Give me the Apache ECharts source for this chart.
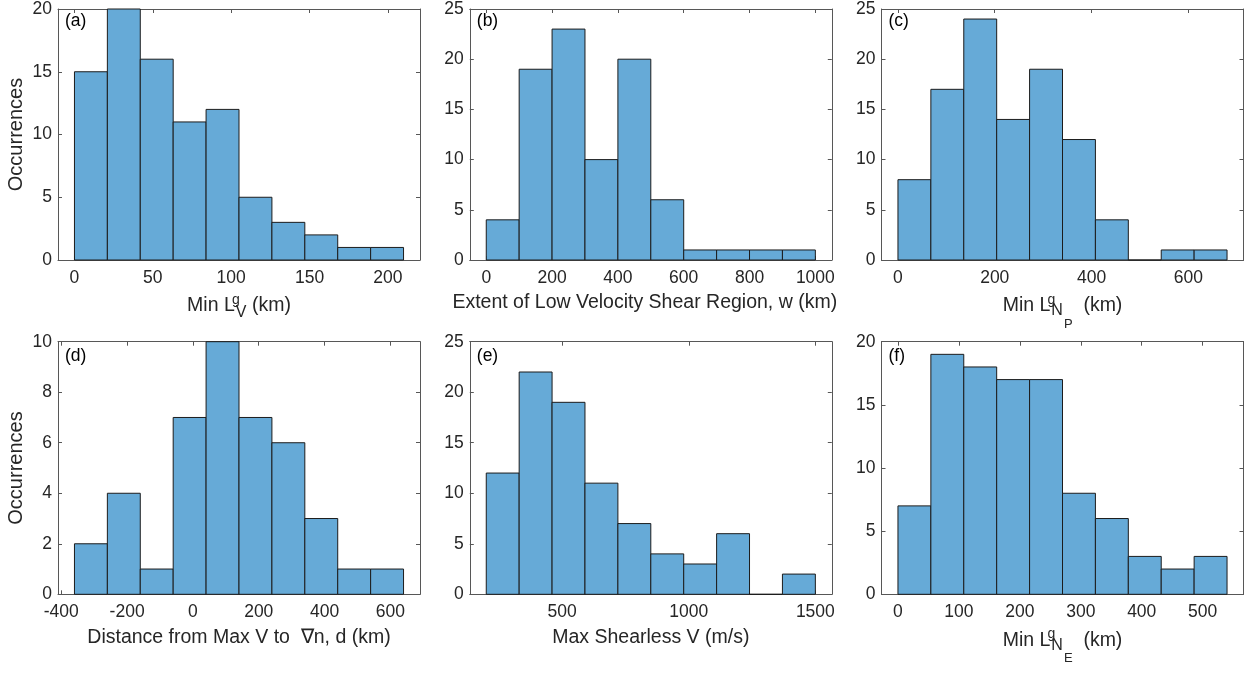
<!DOCTYPE html>
<html>
<head>
<meta charset="utf-8">
<script src="https://cdn.jsdelivr.net/npm/echarts@6/dist/echarts.min.js"></script>
<style>
html,body{margin:0;padding:0;background:#ffffff;}
#chart{width:1253px;height:675px;}
</style>
</head>
<body>
<div id="chart"></div>
<script>
// ---------------- data ----------------
const panelLabels = ['(a)', '(b)', '(c)', '(d)', '(e)', '(f)'];

const edgesA = [0, 21, 42, 63, 84, 105, 126, 147, 168, 189, 210];
const countsA = [15, 20, 16, 11, 12, 5, 3, 2, 1, 1];
const xLimA = [-10.5, 220.5];
const xTicksA = [0, 50, 100, 150, 200];
const yTicksA = [0, 5, 10, 15, 20];

const edgesB = [0, 100, 200, 300, 400, 500, 600, 700, 800, 900, 1000];
const countsB = [4, 19, 23, 10, 20, 6, 1, 1, 1, 1];
const xLimB = [-50, 1050];
const xTicksB = [0, 200, 400, 600, 800, 1000];
const yTicksB = [0, 5, 10, 15, 20, 25];

const edgesC = [0, 68, 136, 204, 272, 340, 408, 476, 544, 612, 680];
const countsC = [8, 17, 24, 14, 19, 12, 4, 0, 1, 1];
const xLimC = [-34, 714];
const xTicksC = [0, 200, 400, 600];
const yTicksC = [0, 5, 10, 15, 20, 25];

const edgesD = [-360, -260, -160, -60, 40, 140, 240, 340, 440, 540, 640];
const countsD = [2, 4, 1, 7, 10, 7, 6, 3, 1, 1];
const xLimD = [-410, 690];
const xTicksD = [-400, -200, 0, 200, 400, 600];
const yTicksD = [0, 2, 4, 6, 8, 10];

const edgesE = [200, 330, 460, 590, 720, 850, 980, 1110, 1240, 1370, 1500];
const countsE = [12, 22, 19, 11, 7, 4, 3, 6, 0, 2];
const xLimE = [135, 1565];
const xTicksE = [500, 1000, 1500];
const yTicksE = [0, 5, 10, 15, 20, 25];

const edgesF = [0, 54, 108, 162, 216, 270, 324, 378, 432, 486, 540];
const countsF = [7, 19, 18, 17, 17, 8, 6, 3, 2, 3];
const xLimF = [-27, 567];
const xTicksF = [0, 100, 200, 300, 400, 500];
const yTicksF = [0, 5, 10, 15, 20];

const xNames = [
  '{m|Min L}{sp|g}{sb|V}{m| (km)}',
  'Extent of Low Velocity Shear Region, w (km)',
  '{m|Min L}{sp|g}{sn|N}{ss|P}{m|  (km)}',
  'Distance from Max V to  \u2207n, d (km)',
  'Max Shearless V (m/s)',
  '{m|Min L}{sp|g}{sn|N}{ss|E}{m|  (km)}'
];
const yName = 'Occurrences';

// ---------------- layout / style ----------------
const FONT = '"Liberation Sans", Arial, Helvetica, sans-serif';
const axisColor = '#575757';
const textColor = '#262626';
const barFill = '#66aad7';
const barStroke = '#1c1c1c';
const tickFont = 17.5;
const nameFont = 19.5;

const panels = [
  {edges: edgesA, counts: countsA, xLim: xLimA, xTicks: xTicksA, yTicks: yTicksA},
  {edges: edgesB, counts: countsB, xLim: xLimB, xTicks: xTicksB, yTicks: yTicksB},
  {edges: edgesC, counts: countsC, xLim: xLimC, xTicks: xTicksC, yTicks: yTicksC},
  {edges: edgesD, counts: countsD, xLim: xLimD, xTicks: xTicksD, yTicks: yTicksD},
  {edges: edgesE, counts: countsE, xLim: xLimE, xTicks: xTicksE, yTicks: yTicksE},
  {edges: edgesF, counts: countsF, xLim: xLimF, xTicks: xTicksF, yTicks: yTicksF}
];

const colLeft = [58, 469.8, 881.5];
const rowTop = [6.7, 341.7];
const gridW = 362;
const gridH = [253.3, 252.6];
const namePadRight = [0, 12, 0, 0, 0, 0];

const richStyles = {
  m:  {fontSize: nameFont, fontFamily: FONT, color: textColor, lineHeight: 28, verticalAlign: 'middle'},
  sp: {fontSize: 14, fontFamily: FONT, color: textColor, verticalAlign: 'top', width: 0, padding: [1, 0, 0, 1]},
  sb: {fontSize: 16, fontFamily: FONT, color: textColor, verticalAlign: 'bottom', padding: [0, 0, -1, 0]},
  sn: {fontSize: 16, fontFamily: FONT, color: textColor, verticalAlign: 'bottom', padding: [0, 0, 1, 0]},
  ss: {fontSize: 13, fontFamily: FONT, color: textColor, verticalAlign: 'bottom', padding: [0, 0, -11, 1]}
};

const plainNum = function (v) { return String(v); };

const grids = [], xAxes = [], yAxes = [], series = [], graphics = [];

panels.forEach((p, i) => {
  const r = Math.floor(i / 3), c = i % 3;
  grids.push({left: colLeft[c], top: rowTop[r], width: gridW, height: gridH[r]});

  const isRich = xNames[i].indexOf('{m|') === 0;
  const common = {
    type: 'value', gridIndex: i,
    min: p.xLim[0], max: p.xLim[1],
    axisLine: {show: true, onZero: false, lineStyle: {color: axisColor, width: 1}},
    axisTick: {show: true, inside: true, length: 4, customValues: p.xTicks, lineStyle: {color: axisColor, width: 1}},
    splitLine: {show: false}
  };
  xAxes.push(Object.assign({}, common, {
    position: 'bottom',
    axisLabel: {show: true, customValues: p.xTicks, margin: 9, fontSize: tickFont, color: textColor,
      fontFamily: FONT, formatter: plainNum},
    name: xNames[i], nameLocation: 'middle', nameGap: isRich ? 32 : 33,
    nameTextStyle: isRich ? {rich: richStyles}
      : {fontSize: nameFont, color: textColor, fontFamily: FONT, padding: [0, namePadRight[i], 0, 0]}
  }));
  xAxes.push(Object.assign({}, common, {
    position: 'top',
    axisLabel: {show: false}
  }));

  const ycommon = {
    type: 'value', gridIndex: i,
    min: p.yTicks[0], max: p.yTicks[p.yTicks.length - 1],
    interval: p.yTicks[1] - p.yTicks[0],
    axisLine: {show: true, onZero: false, lineStyle: {color: axisColor, width: 1}},
    axisTick: {show: true, inside: true, length: 4, lineStyle: {color: axisColor, width: 1}},
    splitLine: {show: false}
  };
  const yLeft = Object.assign({}, ycommon, {
    position: 'left',
    axisLabel: {show: true, margin: 6, fontSize: tickFont, color: textColor, fontFamily: FONT, formatter: plainNum}
  });
  if (c === 0) {
    Object.assign(yLeft, {name: yName, nameLocation: 'middle', nameGap: 32,
      nameTextStyle: {fontSize: 20, color: textColor, fontFamily: FONT}});
  }
  yAxes.push(yLeft);
  yAxes.push(Object.assign({}, ycommon, {position: 'right', axisLabel: {show: false}}));

  const data = p.counts.map((v, k) => [p.edges[k], p.edges[k + 1], v]);
  series.push({
    type: 'custom',
    xAxisIndex: 2 * i, yAxisIndex: 2 * i,
    data: data,
    encode: {x: [0, 1], y: 2},
    clip: false,
    renderItem: function (params, api) {
      const a = api.coord([api.value(0), api.value(2)]);
      const b = api.coord([api.value(1), 0]);
      return {
        type: 'rect',
        shape: {x: a[0], y: a[1], width: b[0] - a[0], height: b[1] - a[1]},
        style: {fill: barFill, stroke: barStroke, lineWidth: 1}
      };
    }
  });

  graphics.push({
    type: 'text',
    left: colLeft[c] + 7,
    top: rowTop[r] + 5,
    style: {text: panelLabels[i], font: '17.5px ' + FONT, fill: '#000000'}
  });
});

const chart = echarts.init(document.getElementById('chart'), null, {renderer: 'canvas'});
chart.setOption({
  backgroundColor: '#ffffff',
  animation: false,
  textStyle: {fontFamily: FONT},
  grid: grids,
  xAxis: xAxes,
  yAxis: yAxes,
  series: series,
  graphic: graphics
});
</script>
</body>
</html>
